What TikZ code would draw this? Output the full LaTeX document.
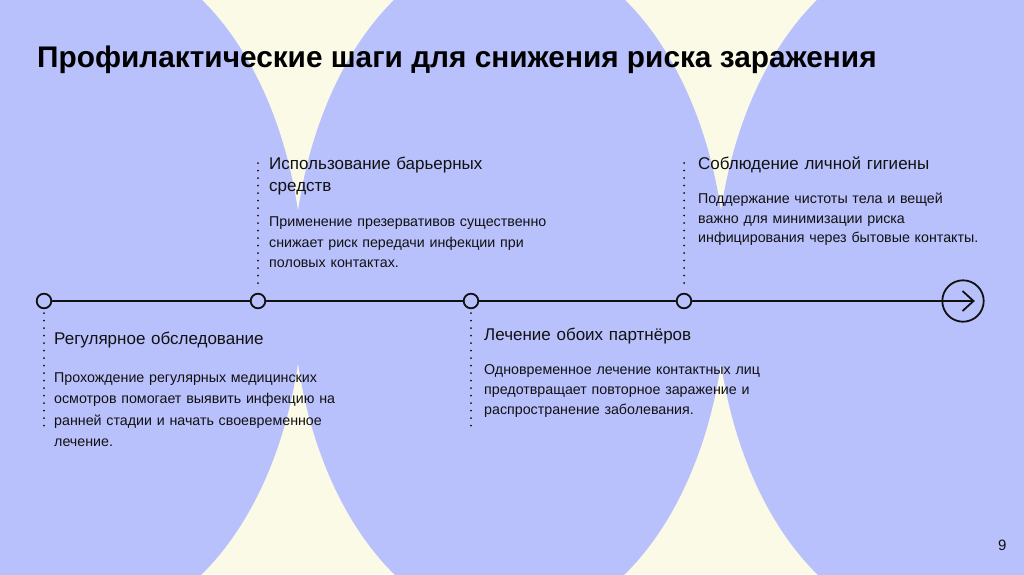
\documentclass[tikz,border=0pt]{standalone}
\usepackage{fontspec}
\setmainfont{Liberation Sans}
\definecolor{bgcream}{HTML}{FBFAE7}
\definecolor{peri}{HTML}{B9C1FC}
\definecolor{ink}{HTML}{111111}
\begin{document}
\begin{tikzpicture}[x=1pt,y=-1pt,
  blob/.style={fill=peri, draw=none},
  tdot/.style={circle, draw=ink, line width=1.8pt, fill=peri, minimum size=14.6pt, inner sep=0pt},
  endmark/.style={circle, draw=ink, line width=1.8pt, minimum size=41.4pt, inner sep=0pt},
  axis/.style={draw=ink, line width=1.8pt},
  dotline/.style={draw=ink, line width=2pt, line cap=round, dash pattern=on 0pt off 7.5pt},
  head/.style={anchor=base west, inner sep=0pt, text width=280pt, align=left, text=ink},
  body/.style={anchor=base west, inner sep=0pt, text width=320pt, align=left, text=ink},
]
\useasboundingbox (0,0) rectangle (1024,574);
\clip (0,0) rectangle (1024,574);
\fill[bgcream] (0,0) rectangle (1024,574);
\fill[blob] (86.5,287) ellipse [x radius=217pt, y radius=339pt];
\fill[blob] (509.5,287) ellipse [x radius=217pt, y radius=339pt];
\fill[blob] (932.5,287) ellipse [x radius=217pt, y radius=339pt];

% title
\node[anchor=base west, inner sep=0pt, text=black, font=\fontsize{29.8}{34}\selectfont\bfseries] (title) at (37,67.6) {Профилактические шаги для снижения риска заражения};

% timeline
\node[tdot] (c1) at (44,301) {};
\node[tdot] (c2) at (258,301) {};
\node[tdot] (c3) at (471,301) {};
\node[tdot] (c4) at (684,301) {};
\node[endmark] (end) at (963,301) {};
\coordinate (tip) at (973.5,301);
\draw[axis] (c1) -- (c2);
\draw[axis] (c2) -- (c3);
\draw[axis] (c3) -- (c4);
\draw[axis] (c4) -- (tip);
\draw[axis, line join=miter] ([xshift=-11pt,yshift=10pt]tip) -- (tip) -- ([xshift=-11pt,yshift=-10pt]tip);

% dotted leaders
\coordinate (e1) at (44,433);
\coordinate (e2) at (258,162);
\coordinate (e3) at (471,433);
\coordinate (e4) at (684,162);
\draw[dotline] ([yshift=-12pt]c1.center) -- (e1);
\draw[dotline] ([yshift=18pt]c2.center) -- (e2);
\draw[dotline] ([yshift=-12pt]c3.center) -- (e3);
\draw[dotline] ([yshift=18pt]c4.center) -- (e4);

% item 1
\node[head, font=\fontsize{17}{22.5}\selectfont] (h1) at (54,344.5) {Регулярное обследование};
\node[body, font=\fontsize{14.25}{21.5}\selectfont] (b1) at (54,382) {Прохождение регулярных медицинских\\осмотров помогает выявить инфекцию на\\ранней стадии и начать своевременное\\лечение.};

% item 2
\node[head, font=\fontsize{17}{22.6}\selectfont] (h2) at (269,169.3) {Использование барьерных\\средств};
\node[body, font=\fontsize{14.25}{20.7}\selectfont] (b2) at (269,226.3) {Применение презервативов существенно\\снижает риск передачи инфекции при\\половых контактах.};

% item 3
\node[head, font=\fontsize{17}{22.5}\selectfont] (h3) at (484,340.5) {Лечение обоих партнёров};
\node[body, font=\fontsize{14.25}{20}\selectfont] (b3) at (484,374) {Одновременное лечение контактных лиц\\предотвращает повторное заражение и\\распространение заболевания.};

% item 4
\node[head, font=\fontsize{17}{22.5}\selectfont] (h4) at (698,169.3) {Соблюдение личной гигиены};
\node[body, font=\fontsize{14.25}{19.5}\selectfont] (b4) at (698,203.5) {Поддержание чистоты тела и вещей\\важно для минимизации риска\\инфицирования через бытовые контакты.};

% page number
\node[anchor=base west, inner sep=0pt, text=ink, font=\fontsize{15}{18}\selectfont] (pg) at (998,550.7) {9};
\end{tikzpicture}
\end{document}
